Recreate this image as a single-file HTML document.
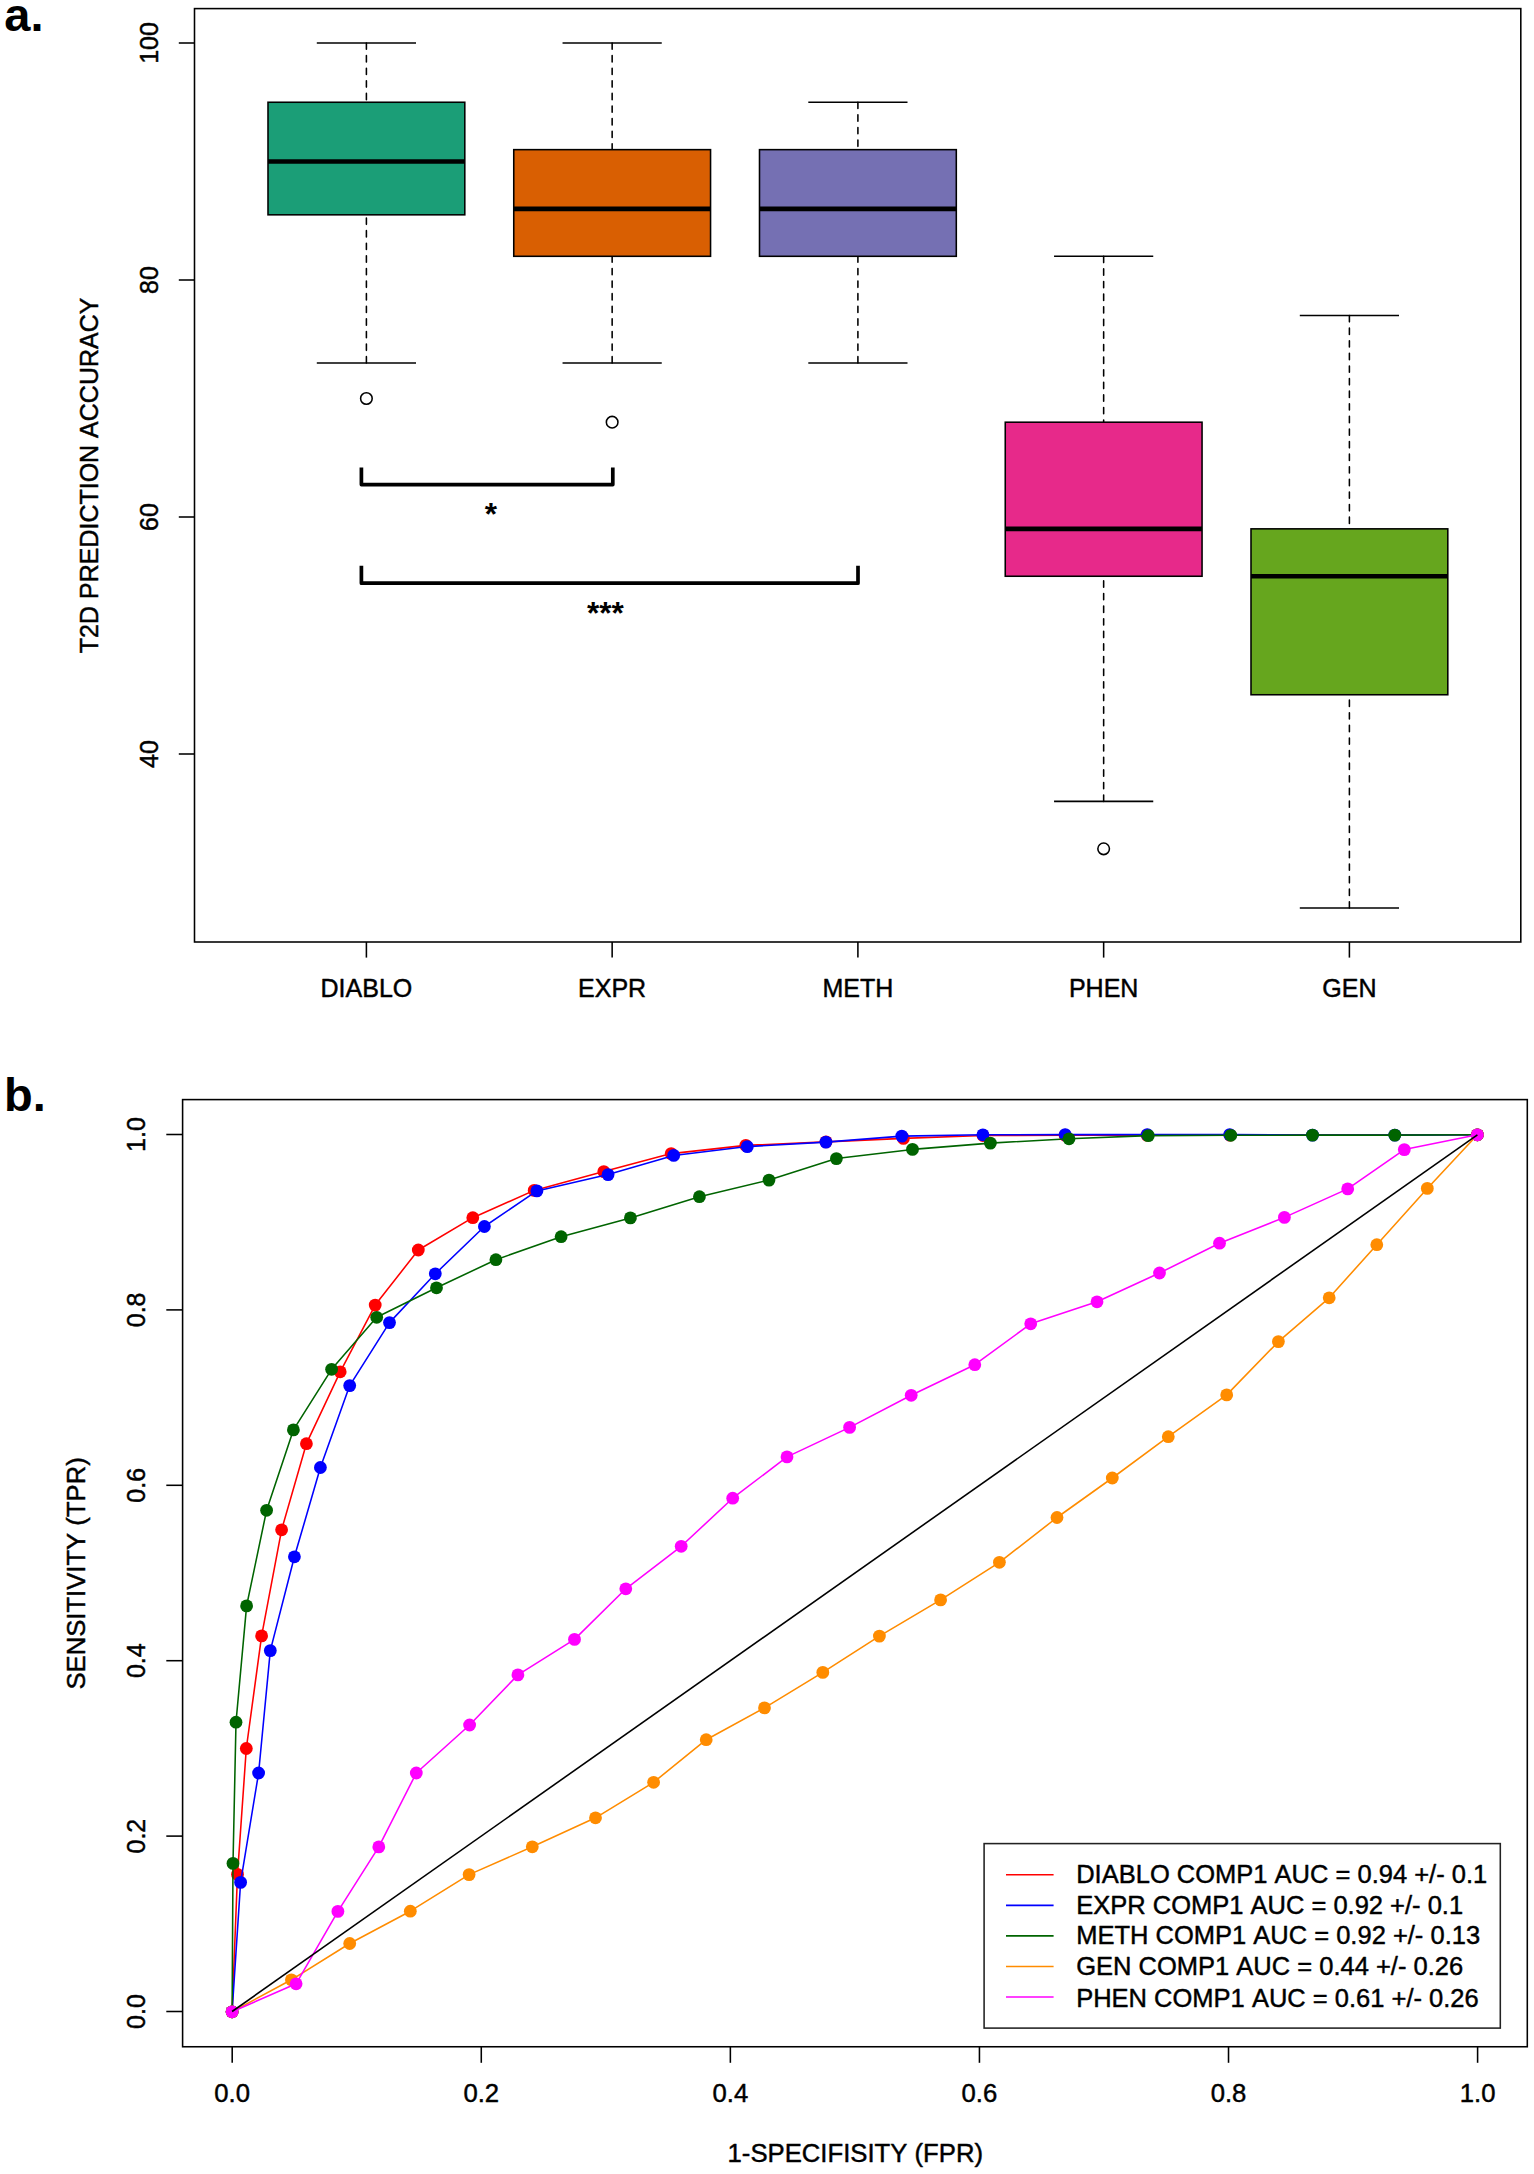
<!DOCTYPE html>
<html lang="en"><head><meta charset="utf-8"><title>Figure</title>
<style>html,body{margin:0;padding:0;background:#fff}svg{display:block}text{font-family:"Liberation Sans", sans-serif;fill:#000;font-kerning:none;stroke:#000;stroke-width:.45px;stroke-linejoin:round}.b{stroke-width:0}</style></head><body>
<svg width="1534" height="2174" viewBox="0 0 1534 2174">
<rect x="0" y="0" width="1534" height="2174" fill="#ffffff"/>
<g id="panel-a">
<text x="4.3" y="30.6" font-size="47" class="b" font-weight="bold">a.</text>
<g fill="none" stroke="#000" stroke-width="1.56" stroke-linecap="butt">
<line x1="178.8" y1="43.00" x2="194.50" y2="43.00"/>
<line x1="178.8" y1="280.00" x2="194.50" y2="280.00"/>
<line x1="178.8" y1="517.00" x2="194.50" y2="517.00"/>
<line x1="178.8" y1="754.00" x2="194.50" y2="754.00"/>
</g>
<text transform="translate(158.2 43.00) rotate(-90)" font-size="25" text-anchor="middle">100</text>
<text transform="translate(158.2 280.00) rotate(-90)" font-size="25" text-anchor="middle">80</text>
<text transform="translate(158.2 517.00) rotate(-90)" font-size="25" text-anchor="middle">60</text>
<text transform="translate(158.2 754.00) rotate(-90)" font-size="25" text-anchor="middle">40</text>
<text transform="translate(98 475.4) rotate(-90)" font-size="25" text-anchor="middle">T2D PREDICTION ACCURACY</text>
<g stroke="#000" stroke-width="1.56" fill="none">
<line x1="366.40" y1="43.00" x2="366.40" y2="102.25" stroke-dasharray="6.3 6.3" stroke-linecap="round"/>
<line x1="366.40" y1="362.95" x2="366.40" y2="214.82" stroke-dasharray="6.3 6.3" stroke-linecap="round"/>
<line x1="316.80" y1="43.00" x2="416.00" y2="43.00"/>
<line x1="316.80" y1="362.95" x2="416.00" y2="362.95"/>
<rect x="268.00" y="102.25" width="196.80" height="112.57" fill="#1B9E77"/>
<line x1="268.00" y1="161.50" x2="464.80" y2="161.50" stroke-width="4.7"/>
<circle cx="366.40" cy="398.50" r="5.8"/>
</g>
<g stroke="#000" stroke-width="1.56" fill="none">
<line x1="612.15" y1="43.00" x2="612.15" y2="149.65" stroke-dasharray="6.3 6.3" stroke-linecap="round"/>
<line x1="612.15" y1="362.95" x2="612.15" y2="256.30" stroke-dasharray="6.3 6.3" stroke-linecap="round"/>
<line x1="562.55" y1="43.00" x2="661.75" y2="43.00"/>
<line x1="562.55" y1="362.95" x2="661.75" y2="362.95"/>
<rect x="513.75" y="149.65" width="196.80" height="106.65" fill="#D95F02"/>
<line x1="513.75" y1="208.90" x2="710.55" y2="208.90" stroke-width="4.7"/>
<circle cx="612.15" cy="422.20" r="5.8"/>
</g>
<g stroke="#000" stroke-width="1.56" fill="none">
<line x1="857.90" y1="102.25" x2="857.90" y2="149.65" stroke-dasharray="6.3 6.3" stroke-linecap="round"/>
<line x1="857.90" y1="362.95" x2="857.90" y2="256.30" stroke-dasharray="6.3 6.3" stroke-linecap="round"/>
<line x1="808.30" y1="102.25" x2="907.50" y2="102.25"/>
<line x1="808.30" y1="362.95" x2="907.50" y2="362.95"/>
<rect x="759.50" y="149.65" width="196.80" height="106.65" fill="#7570B3"/>
<line x1="759.50" y1="208.90" x2="956.30" y2="208.90" stroke-width="4.7"/>
</g>
<g stroke="#000" stroke-width="1.56" fill="none">
<line x1="1103.65" y1="256.30" x2="1103.65" y2="422.20" stroke-dasharray="6.3 6.3" stroke-linecap="round"/>
<line x1="1103.65" y1="801.40" x2="1103.65" y2="576.25" stroke-dasharray="6.3 6.3" stroke-linecap="round"/>
<line x1="1054.05" y1="256.30" x2="1153.25" y2="256.30"/>
<line x1="1054.05" y1="801.40" x2="1153.25" y2="801.40"/>
<rect x="1005.25" y="422.20" width="196.80" height="154.05" fill="#E7298A"/>
<line x1="1005.25" y1="528.85" x2="1202.05" y2="528.85" stroke-width="4.7"/>
<circle cx="1103.65" cy="848.80" r="5.8"/>
</g>
<g stroke="#000" stroke-width="1.56" fill="none">
<line x1="1349.40" y1="315.55" x2="1349.40" y2="528.85" stroke-dasharray="6.3 6.3" stroke-linecap="round"/>
<line x1="1349.40" y1="908.05" x2="1349.40" y2="694.75" stroke-dasharray="6.3 6.3" stroke-linecap="round"/>
<line x1="1299.80" y1="315.55" x2="1399.00" y2="315.55"/>
<line x1="1299.80" y1="908.05" x2="1399.00" y2="908.05"/>
<rect x="1251.00" y="528.85" width="196.80" height="165.90" fill="#66A61E"/>
<line x1="1251.00" y1="576.25" x2="1447.80" y2="576.25" stroke-width="4.7"/>
</g>
<rect x="194.50" y="8.60" width="1326.30" height="933.40" fill="none" stroke="#000" stroke-width="1.56"/>
<g stroke="#000" stroke-width="1.56">
<line x1="366.40" y1="942.00" x2="366.40" y2="957.6"/>
<line x1="612.15" y1="942.00" x2="612.15" y2="957.6"/>
<line x1="857.90" y1="942.00" x2="857.90" y2="957.6"/>
<line x1="1103.65" y1="942.00" x2="1103.65" y2="957.6"/>
<line x1="1349.40" y1="942.00" x2="1349.40" y2="957.6"/>
</g>
<text x="366.40" y="996.6" font-size="25" text-anchor="middle">DIABLO</text>
<text x="612.15" y="996.6" font-size="25" text-anchor="middle">EXPR</text>
<text x="857.90" y="996.6" font-size="25" text-anchor="middle">METH</text>
<text x="1103.65" y="996.6" font-size="25" text-anchor="middle">PHEN</text>
<text x="1349.40" y="996.6" font-size="25" text-anchor="middle">GEN</text>
<g fill="none" stroke="#000" stroke-width="3.7" stroke-linejoin="round" stroke-linecap="butt">
<polyline points="361.4,467.6 361.4,484.6 612.8,484.6 612.8,467.6"/>
<polyline points="361.4,565.8 361.4,583.2 858,583.2 858,565.8"/>
</g>
<text x="490.9" y="525" font-size="31.5" class="b" font-weight="bold" text-anchor="middle">*</text>
<text x="605.4" y="623.5" font-size="31.5" class="b" font-weight="bold" text-anchor="middle">***</text>
</g>
<g id="panel-b">
<text x="4.0" y="1110.8" font-size="47" class="b" font-weight="bold">b.</text>
<g stroke="#000" stroke-width="1.56">
<line x1="166.3" y1="2011.50" x2="182.60" y2="2011.50"/>
<line x1="232.20" y1="2046.75" x2="232.20" y2="2062.8"/>
<line x1="166.3" y1="1836.10" x2="182.60" y2="1836.10"/>
<line x1="481.28" y1="2046.75" x2="481.28" y2="2062.8"/>
<line x1="166.3" y1="1660.70" x2="182.60" y2="1660.70"/>
<line x1="730.36" y1="2046.75" x2="730.36" y2="2062.8"/>
<line x1="166.3" y1="1485.30" x2="182.60" y2="1485.30"/>
<line x1="979.44" y1="2046.75" x2="979.44" y2="2062.8"/>
<line x1="166.3" y1="1309.90" x2="182.60" y2="1309.90"/>
<line x1="1228.52" y1="2046.75" x2="1228.52" y2="2062.8"/>
<line x1="166.3" y1="1134.50" x2="182.60" y2="1134.50"/>
<line x1="1477.60" y1="2046.75" x2="1477.60" y2="2062.8"/>
</g>
<text transform="translate(144.8 2011.50) rotate(-90)" font-size="25" text-anchor="middle">0.0</text>
<text x="232.20" y="2101.8" font-size="25.7" text-anchor="middle">0.0</text>
<text transform="translate(144.8 1836.10) rotate(-90)" font-size="25" text-anchor="middle">0.2</text>
<text x="481.28" y="2101.8" font-size="25.7" text-anchor="middle">0.2</text>
<text transform="translate(144.8 1660.70) rotate(-90)" font-size="25" text-anchor="middle">0.4</text>
<text x="730.36" y="2101.8" font-size="25.7" text-anchor="middle">0.4</text>
<text transform="translate(144.8 1485.30) rotate(-90)" font-size="25" text-anchor="middle">0.6</text>
<text x="979.44" y="2101.8" font-size="25.7" text-anchor="middle">0.6</text>
<text transform="translate(144.8 1309.90) rotate(-90)" font-size="25" text-anchor="middle">0.8</text>
<text x="1228.52" y="2101.8" font-size="25.7" text-anchor="middle">0.8</text>
<text transform="translate(144.8 1134.50) rotate(-90)" font-size="25" text-anchor="middle">1.0</text>
<text x="1477.60" y="2101.8" font-size="25.7" text-anchor="middle">1.0</text>
<text transform="translate(84.8 1573.4) rotate(-90)" font-size="25.65" text-anchor="middle">SENSITIVITY (TPR)</text>
<text x="855.3" y="2162.2" font-size="25.7" text-anchor="middle">1-SPECIFISITY (FPR)</text>
<g stroke="#FF0000" fill="#FF0000">
<polyline fill="none" stroke-width="1.56" stroke-linejoin="round" points="232.1,2011.8 237.5,1874.4 246.3,1748.5 261.6,1635.9 281.6,1529.8 306.4,1443.7 340.2,1371.8 375.2,1305.1 418.3,1250.0 472.8,1217.7 534.2,1190.4 603.8,1171.6 671.2,1153.6 745.8,1145.4 826.0,1141.9 903.4,1138.4 983.0,1135.5 1065.0,1135.2 1147.0,1135.1 1230.0,1135.1 1477.4,1134.8"/>
<g stroke="none"><circle cx="232.1" cy="2011.8" r="6.4"/><circle cx="237.5" cy="1874.4" r="6.4"/><circle cx="246.3" cy="1748.5" r="6.4"/><circle cx="261.6" cy="1635.9" r="6.4"/><circle cx="281.6" cy="1529.8" r="6.4"/><circle cx="306.4" cy="1443.7" r="6.4"/><circle cx="340.2" cy="1371.8" r="6.4"/><circle cx="375.2" cy="1305.1" r="6.4"/><circle cx="418.3" cy="1250.0" r="6.4"/><circle cx="472.8" cy="1217.7" r="6.4"/><circle cx="534.2" cy="1190.4" r="6.4"/><circle cx="603.8" cy="1171.6" r="6.4"/><circle cx="671.2" cy="1153.6" r="6.4"/><circle cx="745.8" cy="1145.4" r="6.4"/><circle cx="826.0" cy="1141.9" r="6.4"/><circle cx="903.4" cy="1138.4" r="6.4"/><circle cx="983.0" cy="1135.5" r="6.4"/><circle cx="1065.0" cy="1135.2" r="6.4"/><circle cx="1147.0" cy="1135.1" r="6.4"/><circle cx="1230.0" cy="1135.1" r="6.4"/><circle cx="1477.4" cy="1134.8" r="6.4"/></g>
</g>
<g stroke="#0000FF" fill="#0000FF">
<polyline fill="none" stroke-width="1.56" stroke-linejoin="round" points="232.1,2011.8 240.6,1882.4 258.6,1773.0 270.3,1650.6 294.4,1556.8 320.4,1467.5 349.7,1385.6 389.5,1322.6 435.3,1273.8 484.4,1226.5 536.9,1190.9 608.1,1174.6 673.7,1155.4 747.3,1146.6 825.9,1142.1 901.8,1136.1 982.9,1134.8 1065.2,1134.6 1147.3,1134.6 1229.7,1134.6 1312.5,1135.1 1394.8,1135.1 1477.4,1134.8"/>
<g stroke="none"><circle cx="232.1" cy="2011.8" r="6.4"/><circle cx="240.6" cy="1882.4" r="6.4"/><circle cx="258.6" cy="1773.0" r="6.4"/><circle cx="270.3" cy="1650.6" r="6.4"/><circle cx="294.4" cy="1556.8" r="6.4"/><circle cx="320.4" cy="1467.5" r="6.4"/><circle cx="349.7" cy="1385.6" r="6.4"/><circle cx="389.5" cy="1322.6" r="6.4"/><circle cx="435.3" cy="1273.8" r="6.4"/><circle cx="484.4" cy="1226.5" r="6.4"/><circle cx="536.9" cy="1190.9" r="6.4"/><circle cx="608.1" cy="1174.6" r="6.4"/><circle cx="673.7" cy="1155.4" r="6.4"/><circle cx="747.3" cy="1146.6" r="6.4"/><circle cx="825.9" cy="1142.1" r="6.4"/><circle cx="901.8" cy="1136.1" r="6.4"/><circle cx="982.9" cy="1134.8" r="6.4"/><circle cx="1065.2" cy="1134.6" r="6.4"/><circle cx="1147.3" cy="1134.6" r="6.4"/><circle cx="1229.7" cy="1134.6" r="6.4"/><circle cx="1312.5" cy="1135.1" r="6.4"/><circle cx="1394.8" cy="1135.1" r="6.4"/><circle cx="1477.4" cy="1134.8" r="6.4"/></g>
</g>
<g stroke="#006400" fill="#006400">
<polyline fill="none" stroke-width="1.56" stroke-linejoin="round" points="232.1,2011.8 233.0,1863.4 236.0,1722.2 246.6,1605.9 266.6,1510.3 293.4,1429.9 331.6,1369.3 376.7,1317.3 436.5,1287.8 495.9,1259.7 561.1,1236.7 630.4,1217.9 699.4,1196.7 769.0,1180.1 836.4,1158.6 912.5,1149.4 990.4,1143.1 1069.0,1138.8 1148.3,1135.6 1230.8,1135.3 1312.5,1135.1 1394.8,1135.1 1477.4,1134.8"/>
<g stroke="none"><circle cx="232.1" cy="2011.8" r="6.4"/><circle cx="233.0" cy="1863.4" r="6.4"/><circle cx="236.0" cy="1722.2" r="6.4"/><circle cx="246.6" cy="1605.9" r="6.4"/><circle cx="266.6" cy="1510.3" r="6.4"/><circle cx="293.4" cy="1429.9" r="6.4"/><circle cx="331.6" cy="1369.3" r="6.4"/><circle cx="376.7" cy="1317.3" r="6.4"/><circle cx="436.5" cy="1287.8" r="6.4"/><circle cx="495.9" cy="1259.7" r="6.4"/><circle cx="561.1" cy="1236.7" r="6.4"/><circle cx="630.4" cy="1217.9" r="6.4"/><circle cx="699.4" cy="1196.7" r="6.4"/><circle cx="769.0" cy="1180.1" r="6.4"/><circle cx="836.4" cy="1158.6" r="6.4"/><circle cx="912.5" cy="1149.4" r="6.4"/><circle cx="990.4" cy="1143.1" r="6.4"/><circle cx="1069.0" cy="1138.8" r="6.4"/><circle cx="1148.3" cy="1135.6" r="6.4"/><circle cx="1230.8" cy="1135.3" r="6.4"/><circle cx="1312.5" cy="1135.1" r="6.4"/><circle cx="1394.8" cy="1135.1" r="6.4"/><circle cx="1477.4" cy="1134.8" r="6.4"/></g>
</g>
<g stroke="#FF8C00" fill="#FF8C00">
<polyline fill="none" stroke-width="1.56" stroke-linejoin="round" points="232.1,2011.8 291.4,1979.8 349.7,1943.5 410.3,1911.2 469.1,1874.6 532.3,1846.8 595.5,1817.8 653.6,1782.3 706.2,1739.7 764.5,1707.9 822.8,1672.4 879.4,1636.1 940.6,1599.9 999.4,1562.3 1057.0,1517.5 1112.3,1478.0 1168.3,1436.7 1226.7,1394.9 1278.4,1341.6 1329.2,1297.8 1376.8,1244.7 1427.3,1188.4 1477.4,1134.8"/>
<g stroke="none"><circle cx="232.1" cy="2011.8" r="6.4"/><circle cx="291.4" cy="1979.8" r="6.4"/><circle cx="349.7" cy="1943.5" r="6.4"/><circle cx="410.3" cy="1911.2" r="6.4"/><circle cx="469.1" cy="1874.6" r="6.4"/><circle cx="532.3" cy="1846.8" r="6.4"/><circle cx="595.5" cy="1817.8" r="6.4"/><circle cx="653.6" cy="1782.3" r="6.4"/><circle cx="706.2" cy="1739.7" r="6.4"/><circle cx="764.5" cy="1707.9" r="6.4"/><circle cx="822.8" cy="1672.4" r="6.4"/><circle cx="879.4" cy="1636.1" r="6.4"/><circle cx="940.6" cy="1599.9" r="6.4"/><circle cx="999.4" cy="1562.3" r="6.4"/><circle cx="1057.0" cy="1517.5" r="6.4"/><circle cx="1112.3" cy="1478.0" r="6.4"/><circle cx="1168.3" cy="1436.7" r="6.4"/><circle cx="1226.7" cy="1394.9" r="6.4"/><circle cx="1278.4" cy="1341.6" r="6.4"/><circle cx="1329.2" cy="1297.8" r="6.4"/><circle cx="1376.8" cy="1244.7" r="6.4"/><circle cx="1427.3" cy="1188.4" r="6.4"/><circle cx="1477.4" cy="1134.8" r="6.4"/></g>
</g>
<g stroke="#FF00FF" fill="#FF00FF">
<polyline fill="none" stroke-width="1.56" stroke-linejoin="round" points="232.1,2011.8 296.1,1983.8 337.9,1911.4 378.8,1846.9 416.3,1773.0 469.6,1725.0 517.9,1674.9 574.5,1639.4 625.8,1588.8 681.2,1546.3 732.7,1498.2 787.0,1456.9 849.6,1427.4 911.2,1395.3 974.8,1364.7 1030.7,1323.8 1097.0,1301.8 1159.5,1273.0 1219.5,1243.2 1284.4,1217.4 1347.7,1188.9 1404.3,1149.6 1477.4,1134.8"/>
<g stroke="none"><circle cx="232.1" cy="2011.8" r="6.4"/><circle cx="296.1" cy="1983.8" r="6.4"/><circle cx="337.9" cy="1911.4" r="6.4"/><circle cx="378.8" cy="1846.9" r="6.4"/><circle cx="416.3" cy="1773.0" r="6.4"/><circle cx="469.6" cy="1725.0" r="6.4"/><circle cx="517.9" cy="1674.9" r="6.4"/><circle cx="574.5" cy="1639.4" r="6.4"/><circle cx="625.8" cy="1588.8" r="6.4"/><circle cx="681.2" cy="1546.3" r="6.4"/><circle cx="732.7" cy="1498.2" r="6.4"/><circle cx="787.0" cy="1456.9" r="6.4"/><circle cx="849.6" cy="1427.4" r="6.4"/><circle cx="911.2" cy="1395.3" r="6.4"/><circle cx="974.8" cy="1364.7" r="6.4"/><circle cx="1030.7" cy="1323.8" r="6.4"/><circle cx="1097.0" cy="1301.8" r="6.4"/><circle cx="1159.5" cy="1273.0" r="6.4"/><circle cx="1219.5" cy="1243.2" r="6.4"/><circle cx="1284.4" cy="1217.4" r="6.4"/><circle cx="1347.7" cy="1188.9" r="6.4"/><circle cx="1404.3" cy="1149.6" r="6.4"/><circle cx="1477.4" cy="1134.8" r="6.4"/></g>
</g>
<line x1="232.1" y1="2011.5" x2="1477.4" y2="1134.8" stroke="#000" stroke-width="1.6"/>
<rect x="182.60" y="1099.60" width="1344.70" height="947.15" fill="none" stroke="#000" stroke-width="1.56"/>
<rect x="984.1" y="1843.6" width="516.2" height="184.5" fill="#fff" stroke="#222" stroke-width="1.56"/>
<line x1="1006" y1="1874.80" x2="1053.6" y2="1874.80" stroke="#FF0000" stroke-width="1.56"/>
<text x="1076.2" y="1883.00" font-size="25.5">DIABLO COMP1 AUC = 0.94 +/- 0.1</text>
<line x1="1006" y1="1905.35" x2="1053.6" y2="1905.35" stroke="#0000FF" stroke-width="1.56"/>
<text x="1076.2" y="1913.60" font-size="25.5">EXPR COMP1 AUC = 0.92 +/- 0.1</text>
<line x1="1006" y1="1935.90" x2="1053.6" y2="1935.90" stroke="#006400" stroke-width="1.56"/>
<text x="1076.2" y="1944.30" font-size="25.5">METH COMP1 AUC = 0.92 +/- 0.13</text>
<line x1="1006" y1="1966.45" x2="1053.6" y2="1966.45" stroke="#FF8C00" stroke-width="1.56"/>
<text x="1076.2" y="1975.40" font-size="25.5">GEN COMP1 AUC = 0.44 +/- 0.26</text>
<line x1="1006" y1="1997.00" x2="1053.6" y2="1997.00" stroke="#FF00FF" stroke-width="1.56"/>
<text x="1076.2" y="2007.00" font-size="25.5">PHEN COMP1 AUC = 0.61 +/- 0.26</text>
</g>
</svg></body></html>
